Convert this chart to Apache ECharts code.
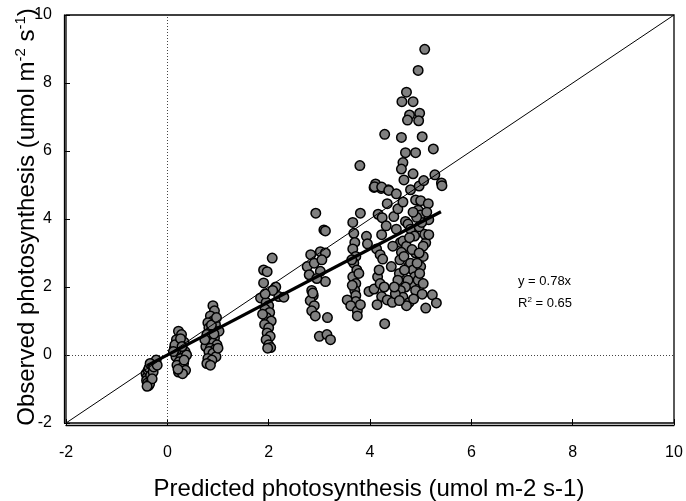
<!DOCTYPE html>
<html>
<head>
<meta charset="utf-8">
<script src="https://cdn.jsdelivr.net/npm/echarts@6/dist/echarts.min.js"></script>
<style>html,body{margin:0;padding:0;background:#fff;}#c{width:686px;height:501px;}</style>
</head>
<body>
<div id="c"></div>
<script>
// Axis ticks
const xTicks = [-2, 0, 2, 4, 6, 8, 10];
const yTicks = [-2, 0, 2, 4, 6, 8, 10];
// Regression
const slope = 0.78;
const r2 = 0.65;
const fitRange = [-0.4, 5.4];
// Observations [predicted, observed] grouped by predicted level
const groupA = [[-0.42,-0.55],[-0.40,-0.65],[-0.41,-0.75],[-0.39,-0.82],[-0.37,-0.9],[-0.35,-0.85],[-0.38,-0.45],[-0.36,-0.38],[-0.33,-0.6],[-0.31,-0.3],[-0.28,-0.5],[-0.25,-0.22],[-0.22,-0.15],[-0.3,-0.7],[-0.34,-0.25],[-0.27,-0.35],[-0.4,-0.92],[-0.2,-0.3]];
const groupB = [[0.22,0.7],[0.28,0.6],[0.18,0.45],[0.33,0.38],[0.25,0.3],[0.14,0.2],[0.3,0.15],[0.2,0.05],[0.35,0.1],[0.17,-0.05],[0.27,-0.1],[0.23,-0.2],[0.32,-0.25],[0.19,-0.3],[0.28,-0.38],[0.36,-0.45],[0.22,-0.5],[0.3,-0.55],[0.15,0.3],[0.38,0.0],[0.26,0.48],[0.21,-0.42],[0.33,-0.15],[0.12,0.1],[0.29,0.25]];
const groupC = [[0.9,1.45],[0.93,1.3],[0.85,1.15],[0.9,1.0],[0.8,0.95],[0.95,0.9],[0.82,0.8],[0.88,0.75],[1.02,0.7],[0.78,0.6],[0.86,0.55],[0.93,0.5],[0.8,0.4],[0.9,0.35],[0.98,0.3],[0.76,0.25],[0.85,0.2],[0.93,0.15],[0.82,0.1],[0.9,0.05],[0.96,-0.05],[0.8,-0.1],[0.88,-0.15],[0.78,-0.25],[0.85,-0.3],[1.0,0.2],[0.74,0.45],[0.92,0.62],[0.87,0.88],[0.97,1.1]];
const groupD = [[2.07,2.85],[1.9,2.5],[1.97,2.45],[1.9,2.12],[2.14,2.0],[1.84,1.68],[2.2,1.72],[2.3,1.7],[1.95,1.55],[2.0,1.45],[1.93,1.35],[2.02,1.25],[1.96,1.1],[2.05,1.0],[1.92,0.9],[2.0,0.8],[1.97,0.65],[2.03,0.55],[1.95,0.45],[2.0,0.3],[2.04,0.22],[1.98,0.2],[1.88,1.2],[2.08,1.9],[1.93,1.8]];
const groupE = [[2.93,4.17],[3.09,3.68],[3.12,3.65],[2.83,2.95],[2.76,2.6],[2.8,2.36],[3.02,3.04],[3.12,3.0],[3.02,2.46],[3.12,2.16],[2.85,1.9],[2.88,1.75],[2.82,1.6],[2.9,1.45],[2.85,1.3],[2.92,1.15],[3.16,1.1],[3.0,0.55],[3.15,0.6],[3.22,0.45],[2.9,2.7],[2.95,2.25],[2.87,1.82],[3.05,2.8]];
const groupF = [[3.8,5.57],[3.81,4.17],[3.66,3.9],[3.68,3.58],[3.7,3.31],[3.66,3.12],[3.72,2.9],[3.68,2.7],[3.74,2.5],[3.66,2.3],[3.72,2.1],[3.7,1.9],[3.72,1.75],[3.72,1.57],[3.55,1.62],[3.62,1.45],[3.75,1.3],[3.65,2.05],[3.78,2.4],[3.64,2.8],[3.81,1.48],[3.75,1.15]];
const groupG = [[3.93,3.49],[3.95,3.27],[4.13,3.12],[4.2,2.95],[4.25,2.82],[4.11,5.03],[4.08,4.93],[4.22,4.9],[4.36,4.86],[4.34,4.45],[4.16,4.14],[4.24,4.04],[4.23,3.54],[4.32,3.8],[4.29,6.49],[4.09,4.95],[4.23,4.94],[4.37,4.84],[3.98,1.87],[4.08,1.94],[4.23,1.72],[4.34,1.62],[4.44,1.55],[4.14,1.48],[4.15,2.3],[4.2,2.1],[4.18,2.5],[4.29,0.92],[4.28,2.0]];
const groupH = [[5.08,8.99],[4.95,8.37],[4.72,7.73],[4.63,7.45],[4.85,7.45],[4.78,7.06],[4.98,7.11],[4.74,6.91],[4.96,6.89],[4.62,6.4],[5.03,6.42],[5.25,6.06],[4.7,5.95],[4.9,5.95],[4.65,5.66],[4.62,5.47],[4.85,5.33],[4.67,5.15],[5.28,5.3],[5.41,5.06],[5.42,4.98],[4.52,4.74],[4.8,4.86],[4.97,4.97],[5.06,5.13],[4.9,4.56],[5.0,4.54],[5.15,4.45],[4.95,4.26],[5.0,4.12],[5.16,3.98],[4.47,4.07],[4.7,3.93],[4.75,3.85],[4.8,3.7],[4.97,3.77],[4.6,3.31],[4.65,3.35],[4.72,3.2],[4.62,3.02],[4.59,2.8],[4.67,2.9],[4.76,2.6],[4.8,2.7],[4.85,2.5],[4.88,2.3],[4.82,2.1],[4.75,2.2],[4.7,2.0],[4.58,2.4],[4.55,2.2],[4.6,1.9],[4.65,1.7],[4.5,1.8],[4.9,1.9],[4.95,2.2],[5.0,2.6],[5.05,2.9],[5.1,3.3],[5.08,3.55],[5.02,3.9],[4.92,4.05],[4.85,4.2],[4.88,3.5],[4.9,3.0],[4.78,3.45],[5.03,1.79],[5.23,1.77],[5.1,1.38],[5.31,1.53],[4.77,1.54],[4.98,2.4],[4.93,2.7],[5.05,2.1],[4.68,2.5],[4.83,3.1],[4.52,3.7],[4.45,3.2],[4.42,2.6],[4.48,2.0],[4.55,4.3],[4.65,4.5],[5.12,4.2],[5.05,3.2],[5.16,3.54],[4.97,3.0],[4.72,1.45],[4.58,1.6],[4.86,1.65]];

const allPoints = [].concat(groupA, groupB, groupC, groupD, groupE, groupF, groupG, groupH);
const xMin = xTicks[0], xMax = xTicks[xTicks.length - 1];
const yMin = yTicks[0], yMax = yTicks[yTicks.length - 1];

const FONT = 'Liberation Sans, Arial, sans-serif';
const chart = echarts.init(document.getElementById('c'), null, {renderer: 'canvas'});
const axisCommon = {
  type: 'value',
  interval: 2,
  offset: 2,
  axisLine: {show: true, onZero: false, lineStyle: {color: '#000', width: 1.3}},
  axisTick: {show: true, inside: true, length: 6, lineStyle: {color: '#000', width: 1}},
  splitLine: {show: false},
  axisLabel: {color: '#000', fontSize: 16, fontFamily: FONT}
};
chart.setOption({
  animation: false,
  backgroundColor: '#fff',
  grid: {left: 66, right: 12, top: 15, bottom: 78, show: true, borderColor: '#000', borderWidth: 1.3, outerBoundsMode: 'none', containLabel: false},
  xAxis: Object.assign({}, axisCommon, {min: xMin, max: xMax, axisLabel: Object.assign({}, axisCommon.axisLabel, {margin: 20})}),
  yAxis: Object.assign({}, axisCommon, {min: yMin, max: yMax, axisLabel: Object.assign({}, axisCommon.axisLabel, {margin: 12})}),
  series: [
    {
      type: 'scatter',
      data: allPoints,
      symbol: 'circle',
      symbolSize: 9.5,
      z: 2,
      itemStyle: {color: '#808080', borderColor: '#000', borderWidth: 1.5, opacity: 1},
      markLine: {
        silent: true,
        symbol: 'none',
        label: {show: false},
        lineStyle: {color: '#444', width: 1, type: [1, 2]},
        data: [{xAxis: 0}, {yAxis: 0}],
        z: 1
      }
    },
    {
      type: 'line',
      data: [[xMin, yMin], [xMax, yMax]],
      symbol: 'none',
      z: 3,
      lineStyle: {color: '#000', width: 1}
    },
    {
      type: 'line',
      data: fitRange.map(v => [v, slope * v]),
      symbol: 'none',
      z: 4,
      lineStyle: {color: '#000', width: 3.2}
    }
  ],
  graphic: [
    {
      type: 'text', x: 27, y: 217, rotation: Math.PI / 2,
      style: {
        text: '{a|Observed photosynthesis (umol m}{s|-2}{a| s}{s|-1}{a|)}',
        align: 'center', verticalAlign: 'middle',
        rich: {
          a: {fontSize: 24, fontFamily: FONT, fill: '#000', lineHeight: 28},
          s: {fontSize: 15, fontFamily: FONT, fill: '#000', verticalAlign: 'top', lineHeight: 28}
        }
      }
    },
    {
      type: 'text', x: 369, y: 489,
      style: {text: 'Predicted photosynthesis (umol m-2 s-1)', fontSize: 24, fontFamily: FONT, fill: '#000', align: 'center', verticalAlign: 'middle'}
    },
    {
      type: 'text', x: 518, y: 281,
      style: {text: 'y = ' + slope + 'x', fontSize: 13, fontFamily: FONT, fill: '#000', align: 'left', verticalAlign: 'middle'}
    },
    {
      type: 'text', x: 518, y: 303,
      style: {
        text: '{a|R}{s|2}{a| = ' + r2 + '}', align: 'left', verticalAlign: 'middle',
        rich: {
          a: {fontSize: 13, fontFamily: FONT, fill: '#000', lineHeight: 15},
          s: {fontSize: 8, fontFamily: FONT, fill: '#000', verticalAlign: 'top', lineHeight: 15}
        }
      }
    }
  ]
});
</script>
</body>
</html>
